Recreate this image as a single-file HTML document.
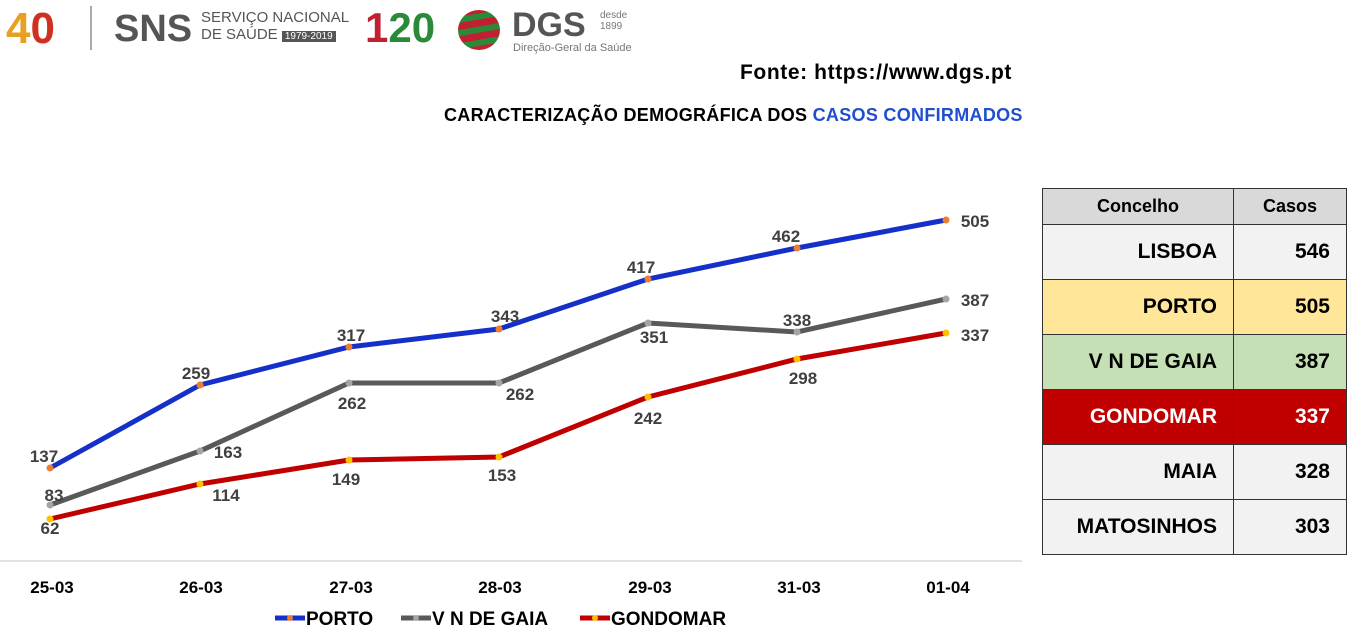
<!DOCTYPE html>
<html><head><meta charset="utf-8"><style>
body{margin:0;width:1353px;height:637px;background:#fff;font-family:"Liberation Sans",sans-serif;overflow:hidden;position:relative}
.t{position:absolute;font-weight:bold;white-space:nowrap}
table{position:absolute;left:1042px;top:188px;border-collapse:collapse;font-weight:bold}
td{border:1.5px solid #333;height:54px;font-size:21px;text-align:right;padding:0 16px 0 0}
tr.h td{height:35px;background:#d9d9d9;text-align:center;font-size:18px;padding:0}
</style></head><body>
<div class="t" style="left:6px;top:4px;font-size:44px;color:#e8a020">4<span style="color:#d03020">0</span></div>
<div style="position:absolute;left:90px;top:6px;width:2px;height:44px;background:#aaa"></div>
<div class="t" style="left:114px;top:8px;font-size:38px;color:#555">SNS</div>
<div class="t" style="left:201px;top:9px;font-size:15px;color:#555;font-weight:normal">SERVIÇO NACIONAL<br>DE SAÚDE <span style="background:#555;color:#fff;font-size:10px;padding:0 3px">1979-2019</span></div>
<div class="t" style="left:365px;top:4px;font-size:42px;color:#2a8a3a"><span style="color:#c02030">1</span>20</div>
<div style="position:absolute;left:458px;top:10px;width:42px;height:40px;border-radius:50%;background:repeating-linear-gradient(170deg,#c02030 0 7px,#2a8a3a 7px 13px)"></div>
<div class="t" style="left:512px;top:6px;font-size:34px;color:#555">DGS</div>
<div class="t" style="left:600px;top:10px;font-size:10px;color:#777;font-weight:normal">desde<br>1899</div>
<div class="t" style="left:513px;top:42px;font-size:11px;color:#777;font-weight:normal">Direção-Geral da Saúde</div>
<div class="t" style="left:740px;top:61px;font-size:21px;color:#000;letter-spacing:0.6px">Fonte: https://www.dgs.pt</div>
<div class="t" style="left:444px;top:105px;font-size:18px;color:#000;letter-spacing:0.3px">CARACTERIZAÇÃO DEMOGRÁFICA DOS <span style="color:#1f4fd0">CASOS CONFIRMADOS</span></div>
<svg width="1353" height="637" style="position:absolute;left:0;top:0">
<line x1="0" y1="561" x2="1022" y2="561" stroke="#d9d9d9" stroke-width="1.5"/>
<polyline fill="none" stroke="#1530c8" stroke-width="5" points="50,468 200,385 349,347 499,329 648,279 797,248 946,220"/>
<polyline fill="none" stroke="#595959" stroke-width="5" points="50,505 200,451 349,383 499,383 648,323 797,332 946,299"/>
<polyline fill="none" stroke="#c00000" stroke-width="5" points="50,519 200,484 349,460 499,457 648,397 797,359 946,333"/>
<g fill="#ed7d31"><circle cx="50" cy="468" r="3.5"/><circle cx="200" cy="385" r="3.5"/><circle cx="349" cy="347" r="3.5"/><circle cx="499" cy="329" r="3.5"/><circle cx="648" cy="279" r="3.5"/><circle cx="797" cy="248" r="3.5"/><circle cx="946" cy="220" r="3.5"/></g>
<g fill="#a5a5a5"><circle cx="50" cy="505" r="3.5"/><circle cx="200" cy="451" r="3.5"/><circle cx="349" cy="383" r="3.5"/><circle cx="499" cy="383" r="3.5"/><circle cx="648" cy="323" r="3.5"/><circle cx="797" cy="332" r="3.5"/><circle cx="946" cy="299" r="3.5"/></g>
<g fill="#ffc000"><circle cx="50" cy="519" r="3.5"/><circle cx="200" cy="484" r="3.5"/><circle cx="349" cy="460" r="3.5"/><circle cx="499" cy="457" r="3.5"/><circle cx="648" cy="397" r="3.5"/><circle cx="797" cy="359" r="3.5"/><circle cx="946" cy="333" r="3.5"/></g>
<g font-family="Liberation Sans" font-weight="bold" font-size="17" fill="#404040" text-anchor="middle">
<text x="44" y="462">137</text><text x="196" y="379">259</text><text x="351" y="341">317</text><text x="505" y="322">343</text><text x="641" y="273">417</text><text x="786" y="242">462</text><text x="975" y="227">505</text>
<text x="54" y="501">83</text><text x="228" y="458">163</text><text x="352" y="409">262</text><text x="520" y="400">262</text><text x="654" y="343">351</text><text x="797" y="326">338</text><text x="975" y="306">387</text>
<text x="50" y="534">62</text><text x="226" y="501">114</text><text x="346" y="485">149</text><text x="502" y="481">153</text><text x="648" y="424">242</text><text x="803" y="384">298</text><text x="975" y="341">337</text>
<g fill="#000"><text x="52" y="593">25-03</text><text x="201" y="593">26-03</text><text x="351" y="593">27-03</text><text x="500" y="593">28-03</text><text x="650" y="593">29-03</text><text x="799" y="593">31-03</text><text x="948" y="593">01-04</text></g>
</g>
<g stroke-width="5"><line x1="275" y1="618" x2="305" y2="618" stroke="#1530c8"/><line x1="401" y1="618" x2="431" y2="618" stroke="#595959"/><line x1="580" y1="618" x2="610" y2="618" stroke="#c00000"/></g>
<circle cx="290" cy="618" r="3" fill="#ed7d31"/><circle cx="416" cy="618" r="3" fill="#a5a5a5"/><circle cx="595" cy="618" r="3" fill="#ffc000"/>
<g font-family="Liberation Sans" font-weight="bold" font-size="19" fill="#000"><text x="306" y="625">PORTO</text><text x="432" y="625">V N DE GAIA</text><text x="611" y="625">GONDOMAR</text></g>
</svg>
<table>
<tr class="h"><td style="width:190px">Concelho</td><td style="width:112px">Casos</td></tr>
<tr style="background:#f2f2f2"><td>LISBOA</td><td>546</td></tr>
<tr style="background:#ffe699"><td>PORTO</td><td>505</td></tr>
<tr style="background:#c5e0b4"><td>V N DE GAIA</td><td>387</td></tr>
<tr style="background:#c00000;color:#fff"><td>GONDOMAR</td><td>337</td></tr>
<tr style="background:#f2f2f2"><td>MAIA</td><td>328</td></tr>
<tr style="background:#f2f2f2"><td>MATOSINHOS</td><td>303</td></tr>
</table>
</body></html>
